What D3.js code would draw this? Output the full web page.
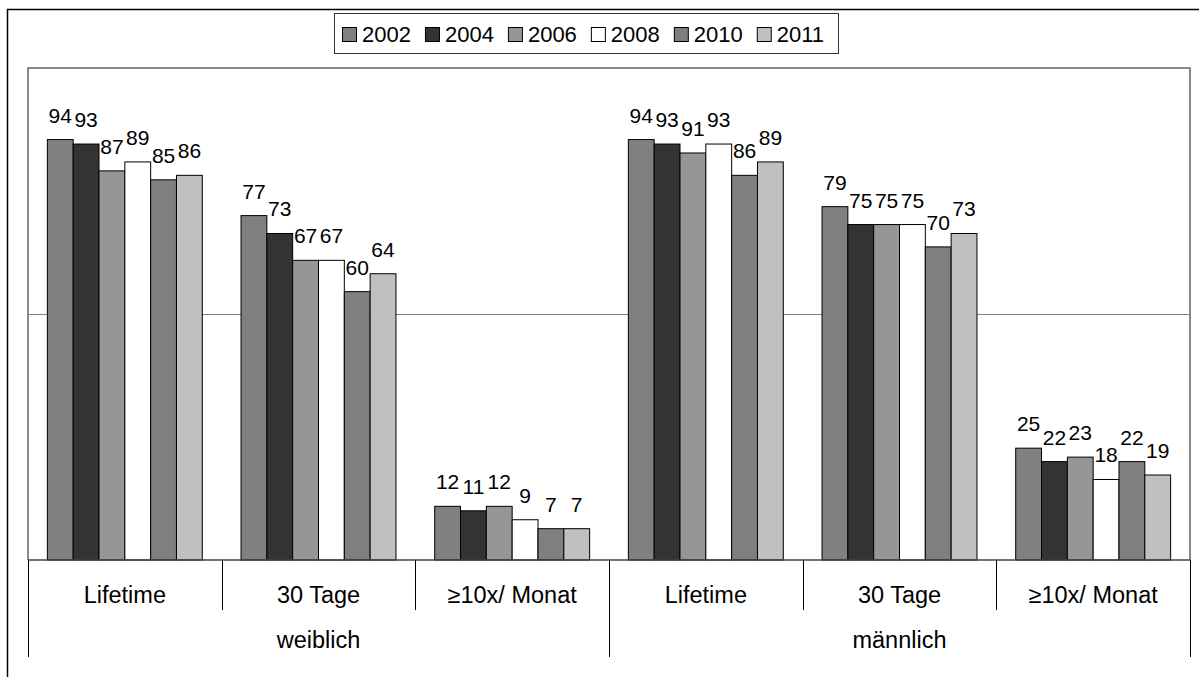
<!DOCTYPE html>
<html>
<head>
<meta charset="utf-8">
<script src="https://cdn.jsdelivr.net/npm/d3@7/dist/d3.min.js"></script>
<style>
  html, body { margin: 0; padding: 0; background: #fff; }
  svg { display: block; font-family: "Liberation Sans", Arial, sans-serif; }
</style>
</head>
<body>
<svg id="chart" width="1199" height="677"></svg>
<script>
// ---- data ----
const groups = ["weiblich", "männlich"];
const measures = ["Lifetime", "30 Tage", "≥10x/ Monat"];
const years = ["2002", "2004", "2006", "2008", "2010", "2011"];
const weiblich = [
  [94, 93, 87, 89, 85, 86],
  [77, 73, 67, 67, 60, 64],
  [12, 11, 12, 9, 7, 7]
];
const maennlich = [
  [94, 93, 91, 93, 86, 89],
  [79, 75, 75, 75, 70, 73],
  [25, 22, 23, 18, 22, 19]
];
const yDomain = [0, 110];
const gridValues = [55];
const colors = ["#808080", "#333333", "#969696", "#ffffff", "#7f7f7f", "#c0c0c0"];

// ---- layout ----
const svg = d3.select("#chart");
const X0 = 28, X1 = 1190, Y0 = 68, Y1 = 560;

const seriesByGroup = [weiblich, maennlich];
const cats = [];
groups.forEach((g, gi) => measures.forEach((m, mi) => {
  cats.push({ key: g + "|" + m, group: g, measure: m, values: seriesByGroup[gi][mi] });
}));

const x = d3.scaleBand().domain(cats.map(c => c.key)).range([X0, X1]).padding(0);
const xi = d3.scaleBand().domain(years).range([0, x.bandwidth()]).paddingInner(0).paddingOuter(0.75);
const y = d3.scaleLinear().domain(yDomain).range([Y1, Y0]);
const color = d3.scaleOrdinal().domain(years).range(colors);

svg.append("rect").attr("width", 1199).attr("height", 677).attr("fill", "#fff");

// outer frame (left & top visible)
svg.append("path").attr("d", `M7.5,677 L7.5,9.5 L1199,9.5`)
  .attr("fill", "none").attr("stroke", "#000").attr("stroke-width", 1.5);

// gridline
svg.selectAll(".grid").data(gridValues).enter().append("line")
  .attr("x1", X0).attr("x2", X1).attr("y1", d => Math.round(y(d)) + 0.5).attr("y2", d => Math.round(y(d)) + 0.5)
  .attr("stroke", "#808080").attr("stroke-width", 1);

// plot border
svg.append("path").attr("d", `M${X0},${Y1} L${X0},${Y0} L${X1},${Y0} L${X1},${Y1}`)
  .attr("fill", "none").attr("stroke", "#8a8a8a").attr("stroke-width", 2);

// bars
const gCat = svg.selectAll(".cat").data(cats).enter().append("g")
  .attr("transform", d => `translate(${x(d.key)},0)`);

gCat.selectAll("rect").data(d => d.values.map((v, i) => ({ year: years[i], v })))
  .enter().append("rect")
  .attr("x", d => xi(d.year))
  .attr("y", d => y(d.v))
  .attr("width", xi.bandwidth())
  .attr("height", d => y(0) - y(d.v))
  .attr("fill", d => color(d.year))
  .attr("stroke", "#000").attr("stroke-width", 1);

gCat.selectAll("text").data(d => d.values.map((v, i) => ({ year: years[i], v })))
  .enter().append("text")
  .attr("x", d => xi(d.year) + xi.bandwidth() / 2)
  .attr("y", d => y(d.v) - 17)
  .attr("text-anchor", "middle")
  .attr("font-size", 21)
  .attr("fill", "#000")
  .text(d => d.v);

// axis line
svg.append("line").attr("x1", X0).attr("x2", X1).attr("y1", Y1).attr("y2", Y1)
  .attr("stroke", "#444").attr("stroke-width", 1.5);

// category ticks
const boundaries = d3.range(cats.length + 1);
svg.selectAll(".tick").data(boundaries).enter().append("line")
  .attr("x1", i => Math.round(X0 + i * x.step()) + 0.5)
  .attr("x2", i => Math.round(X0 + i * x.step()) + 0.5)
  .attr("y1", Y1)
  .attr("y2", i => (i % measures.length === 0) ? 657 : 610)
  .attr("stroke", "#000").attr("stroke-width", 1);

// category labels
svg.selectAll(".clab").data(cats).enter().append("text")
  .attr("x", d => x(d.key) + x.bandwidth() / 2)
  .attr("y", 603)
  .attr("text-anchor", "middle")
  .attr("font-size", 23.5)
  .text(d => d.measure);

// group labels
svg.selectAll(".glab").data(groups).enter().append("text")
  .attr("x", (g, gi) => X0 + (gi * measures.length + measures.length / 2) * x.step())
  .attr("y", 648)
  .attr("text-anchor", "middle")
  .attr("font-size", 23.5)
  .text(d => d);

// legend
const leg = svg.append("g");
leg.append("rect").attr("x", 334.5).attr("y", 13.5).attr("width", 504).attr("height", 40)
  .attr("fill", "#fff").attr("stroke", "#333").attr("stroke-width", 1);
let lx = 342;
years.forEach(yr => {
  leg.append("rect").attr("x", lx + 0.5).attr("y", 27.5).attr("width", 14).attr("height", 14)
    .attr("fill", color(yr)).attr("stroke", "#000").attr("stroke-width", 1);
  const t = leg.append("text").attr("x", lx + 20).attr("y", 42).attr("font-size", 22).text(yr);
  lx = lx + 20 + t.node().getComputedTextLength() + 14;
});
</script>
</body>
</html>
